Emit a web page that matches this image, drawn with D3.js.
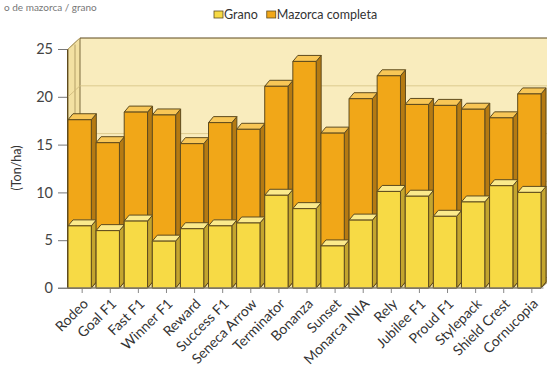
<!DOCTYPE html>
<html>
<head>
<meta charset="utf-8">
<script src="https://cdn.jsdelivr.net/npm/d3@7"></script>
<style>
body{margin:0;background:#fff;}
svg text{font-family:Lato,"Open Sans",sans-serif;}
</style>
</head>
<body>
<div class="canvas"></div>
<script>
const W=547,H=386;
const cats=["Rodeo","Goal F1","Fast F1","Winner F1","Reward","Success F1","Seneca Arrow","Terminator","Bonanza","Sunset","Monarca INIA","Rely","Jubilee F1","Proud F1","Stylepack","Shield Crest","Cornucopia"];
const grano=[6.5,6.0,7.0,4.9,6.2,6.5,6.8,9.7,8.3,4.4,7.1,10.1,9.6,7.5,9.0,10.7,10.0];
const mazorca=[17.6,15.2,18.4,18.1,15.1,17.3,16.6,21.1,23.7,16.2,19.8,22.2,19.2,19.1,18.7,17.8,20.3];
const yTicks=[0,5,10,15,20,25];
const seriesNames=["Grano","Mazorca completa"];

const left=68,right=541,y0=288,yTop=49;
const wdx=12,wdy=-11; // wall depth
const bdx=5,bdy=-6;   // bar depth
const edge="#5e4b1e";

const x=d3.scaleBand().domain(cats).range([left,right]).paddingInner(0.17).paddingOuter(0);
const y=d3.scaleLinear().domain([0,25]).range([y0,yTop]);
const bw=x.bandwidth();

const svg=d3.select(".canvas").append("svg").attr("width",W).attr("height",H)
  .style("background","#fff");

// title remnant at the very top
svg.append("text").attr("x",4).attr("y",11).attr("font-size",10).attr("fill","#777")
  .text("o de mazorca / grano");

// floor
svg.append("polygon")
  .attr("points",[[left,y0],[right,y0],[right+wdx,y0+wdy],[left+wdx,y0+wdy]].join(" "))
  .attr("fill","#f3e2a4").attr("stroke",edge).attr("stroke-width",0.8);
// back wall
svg.append("rect").attr("x",left+wdx).attr("y",y(25)+wdy).attr("width",right-left+20)
  .attr("height",y0-y(25)).attr("fill","#f9ecbd");
// left wall
svg.append("polygon")
  .attr("points",[[left,y0],[left,y(25)],[left+wdx,y(25)+wdy],[left+wdx,y0+wdy]].join(" "))
  .attr("fill","#f3e1a2").attr("stroke",edge).attr("stroke-width",0.8);
svg.append("line").attr("x1",left+wdx/2+1).attr("x2",left+wdx/2+1)
  .attr("y1",y(25)+wdy/2+1).attr("y2",y0+wdy/2).attr("stroke","#8a7440").attr("stroke-width",0.6);
// gridlines
yTicks.filter(t=>t>0).forEach(t=>{
  svg.append("line").attr("x1",left+wdx).attr("x2",W+10)
    .attr("y1",y(t)+wdy).attr("y2",y(t)+wdy)
    .attr("stroke",t===25?edge:"#d6c183").attr("stroke-width",t===25?1.2:0.8);
  svg.append("line").attr("x1",left).attr("x2",left+wdx)
    .attr("y1",y(t)).attr("y2",y(t)+wdy).attr("stroke","#cdb878").attr("stroke-width",0.8);
});

// bars
const styles={
  maz:{front:"#f1a718",top:"#f8c656",side:"#b57a12"},
  gra:{front:"#f7da45",top:"#fbea8c",side:"#c4a52e"}
};
function bar(cx,v,s){
  const yv=y(v),g=svg.append("g").attr("stroke",edge).attr("stroke-width",1).attr("stroke-linejoin","round");
  g.append("polygon").attr("fill",s.side)
    .attr("points",[[cx+bw,yv],[cx+bw+bdx,yv+bdy],[cx+bw+bdx,y0+bdy],[cx+bw,y0]].join(" "));
  g.append("polygon").attr("fill",s.top)
    .attr("points",[[cx,yv],[cx+bdx,yv+bdy],[cx+bw+bdx,yv+bdy],[cx+bw,yv]].join(" "));
  g.append("rect").attr("fill",s.front).attr("x",cx).attr("y",yv).attr("width",bw).attr("height",y0-yv);
}
cats.forEach((c,i)=>{
  bar(x(c),mazorca[i],styles.maz);
  bar(x(c),grano[i],styles.gra);
});

// y axis
const yAxis=d3.axisLeft(y).tickValues(yTicks).tickSize(9).tickPadding(5);
const gy=svg.append("g").attr("transform",`translate(${left-1},0)`).call(yAxis);
gy.select(".domain").attr("stroke",edge);
gy.selectAll(".tick line").attr("stroke","#777");
gy.selectAll("text").attr("font-size",14.5).attr("fill","#444").style("font-family","Lato,sans-serif");

// x axis
const xAxis=d3.axisBottom(x).tickSize(4).tickPadding(4);
const gx=svg.append("g").attr("transform",`translate(${(bdx)/2},${y0})`).call(xAxis);
gx.select(".domain").attr("stroke","#888").attr("d",`M${left-10-bdx/2},0H${right}`);
gx.selectAll(".tick line").attr("stroke","#888").attr("transform","translate(0,1)");
gx.selectAll("text").attr("font-size",14).attr("fill","#333").style("font-family","Lato,sans-serif")
  .attr("text-anchor","end").attr("dy","0.35em")
  .attr("transform","translate(0,4) rotate(-45)").attr("y",9).attr("x",-4);

// y title
svg.append("text").attr("transform","translate(21,168) rotate(-90)")
  .attr("text-anchor","middle").attr("font-size",12.5).attr("fill","#333").text("(Ton/ha)");

// legend
const lg=svg.append("g").attr("transform","translate(214,11)");
const lcols=[styles.gra.front,styles.maz.front];
let lx=0;
seriesNames.forEach((n,i)=>{
  lg.append("rect").attr("x",lx).attr("y",0).attr("width",9).attr("height",7)
    .attr("fill",lcols[i]).attr("stroke",edge).attr("stroke-width",0.8);
  const t=lg.append("text").attr("x",lx+10).attr("y",8).attr("font-size",12.5).attr("fill","#333").text(n);
  lx+=10+t.node().getComputedTextLength()+9;
});
</script>
</body>
</html>
